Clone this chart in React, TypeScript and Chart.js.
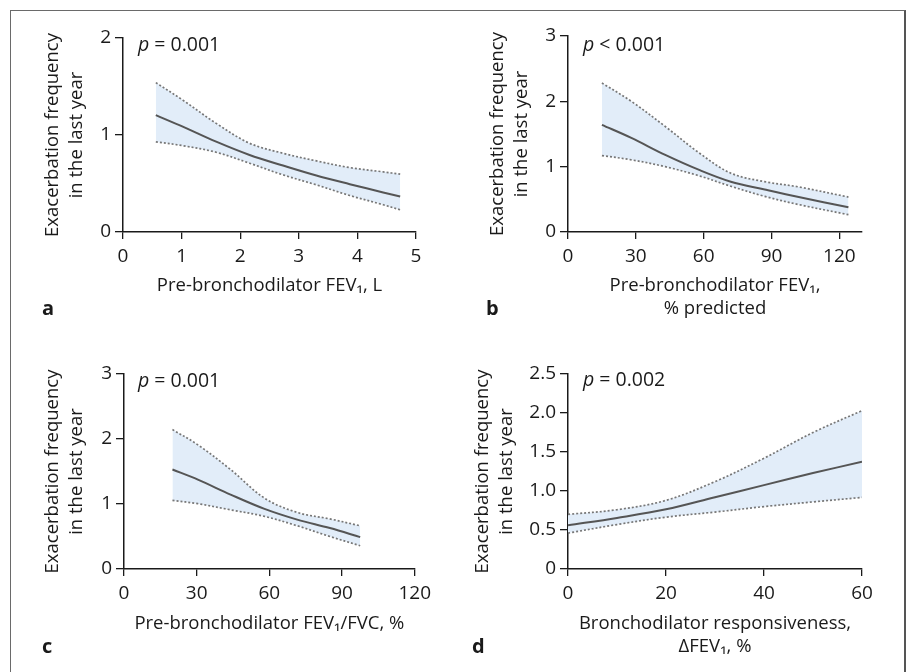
import React, { useEffect, useRef } from 'react';
import { Chart, registerables } from 'chart.js';
Chart.register(...registerables);

// Panel a: Pre-bronchodilator FEV1, L
const A_X = [0.56, 1.02, 1.59, 2.16, 2.73, 3.3, 3.87, 4.44, 4.73];
const A_FIT = [1.205, 1.086, 0.931, 0.794, 0.685, 0.582, 0.493, 0.408, 0.366];
const A_UP = [1.54, 1.36, 1.12, 0.915, 0.812, 0.733, 0.664, 0.62, 0.596];
const A_LO = [0.93, 0.89, 0.822, 0.709, 0.589, 0.486, 0.376, 0.281, 0.229];
const A_XTICKS = [0, 1, 2, 3, 4, 5];
const A_YTICKS = [0, 1, 2];
const A_YLABELS = ['0', '1', '2'];

// Panel b: Pre-bronchodilator FEV1, % predicted
const B_X = [15, 28, 43, 58, 72, 87, 102, 124];
const B_FIT = [1.64, 1.44, 1.18, 0.95, 0.77, 0.65, 0.535, 0.38];
const B_UP = [2.28, 2.0, 1.615, 1.21, 0.9, 0.77, 0.69, 0.535];
const B_LO = [1.17, 1.105, 1.0, 0.86, 0.7, 0.545, 0.42, 0.265];
const B_XTICKS = [0, 30, 60, 90, 120];
const B_YTICKS = [0, 1, 2, 3];
const B_YLABELS = ['0', '1', '2', '3'];

// Panel c: Pre-bronchodilator FEV1/FVC, %
const C_X = [20, 30.5, 44, 58, 71.5, 85, 97.5];
const C_FIT = [1.53, 1.375, 1.145, 0.925, 0.76, 0.63, 0.49];
const C_UP = [2.145, 1.91, 1.53, 1.09, 0.87, 0.77, 0.665];
const C_LO = [1.055, 1.005, 0.91, 0.81, 0.665, 0.5, 0.358];
const C_XTICKS = [0, 30, 60, 90, 120];
const C_YTICKS = [0, 1, 2, 3];
const C_YLABELS = ['0', '1', '2', '3'];

// Panel d: Bronchodilator responsiveness, ΔFEV1, %
const D_X = [0, 10, 20, 30, 40, 50, 60];
const D_FIT = [0.56, 0.655, 0.765, 0.92, 1.075, 1.23, 1.375];
const D_UP = [0.7, 0.76, 0.88, 1.12, 1.42, 1.75, 2.03];
const D_LO = [0.46, 0.57, 0.665, 0.73, 0.8, 0.86, 0.918];
const D_XTICKS = [0, 20, 40, 60];
const D_YTICKS = [0, 0.5, 1, 1.5, 2, 2.5];
const D_YLABELS = ['0', '0.5', '1.0', '1.5', '2.0', '2.5'];

const Y_TITLE = ['Exacerbation frequency', 'in the last year'];

const FONT = "'Open Sans', 'Noto Sans', sans-serif";
const TXT = '#1a1a1a';
const AXIS = '#1a1a1a';
const PAD_T = 20;
const PAD_R = 20;

type Panel = {
  x: number[]; fit: number[]; up: number[]; lo: number[];
  xMin: number; xMax: number; xTicks: number[];
  yMax: number; yTicks: number[]; yLabels: string[];
  xTitle: string[];
  left: number; top: number; yAxisW: number; xAxisH: number; plotW: number; plotH: number;
};

const PANELS: Panel[] = [
  { x: A_X, fit: A_FIT, up: A_UP, lo: A_LO, xMin: 0, xMax: 5, xTicks: A_XTICKS, yMax: 2, yTicks: A_YTICKS, yLabels: A_YLABELS,
    xTitle: ['Pre-bronchodilator FEV\u2081, L'], left: 41, top: 18, yAxisW: 82, xAxisH: 65, plotW: 293, plotH: 194 },
  { x: B_X, fit: B_FIT, up: B_UP, lo: B_LO, xMin: 0, xMax: 130, xTicks: B_XTICKS, yMax: 3, yTicks: B_YTICKS, yLabels: B_YLABELS,
    xTitle: ['Pre-bronchodilator FEV\u2081,', '% predicted'], left: 486, top: 16, yAxisW: 82, xAxisH: 88, plotW: 294, plotH: 196 },
  { x: C_X, fit: C_FIT, up: C_UP, lo: C_LO, xMin: 0, xMax: 120, xTicks: C_XTICKS, yMax: 3, yTicks: C_YTICKS, yLabels: C_YLABELS,
    xTitle: ['Pre-bronchodilator FEV\u2081/FVC, %'], left: 41, top: 354, yAxisW: 83, xAxisH: 66, plotW: 293, plotH: 195 },
  { x: D_X, fit: D_FIT, up: D_UP, lo: D_LO, xMin: 0, xMax: 60, xTicks: D_XTICKS, yMax: 2.5, yTicks: D_YTICKS, yLabels: D_YLABELS,
    xTitle: ['Bronchodilator responsiveness,', '\u0394FEV\u2081, %'], left: 471, top: 354, yAxisW: 97, xAxisH: 89, plotW: 294, plotH: 195 },
];

function PanelChart({ p }: { p: Panel }) {
  const ref = useRef<HTMLCanvasElement>(null);
  const w = p.yAxisW + p.plotW + PAD_R;
  const h = PAD_T + p.plotH + p.xAxisH;
  useEffect(() => {
    const pts = (ys: number[]) => p.x.map((x, i) => ({ x, y: ys[i] }));
    const band = {
      borderColor: '#777777', borderWidth: 1.7, borderDash: [2, 2], pointRadius: 0, tension: 0.35,
    };
    const chart = new Chart(ref.current!, {
      type: 'line',
      data: {
        datasets: [
          { data: pts(p.fit), borderColor: '#555555', borderWidth: 2, pointRadius: 0, fill: false, tension: 0.35 },
          { ...band, data: pts(p.lo), fill: false },
          { ...band, data: pts(p.up), fill: '-1', backgroundColor: '#e2edf9' },
        ],
      },
      options: {
        animation: false,
        responsive: false,
        maintainAspectRatio: false,
        layout: { padding: { top: PAD_T, right: PAD_R, left: 0, bottom: 0 } },
        plugins: {
          legend: { display: false },
          tooltip: { enabled: false },
          filler: { drawTime: 'beforeDatasetsDraw' },
        },
        scales: {
          x: {
            type: 'linear', min: p.xMin, max: p.xMax,
            afterBuildTicks: (s: any) => { s.ticks = p.xTicks.map((v) => ({ value: v })); },
            afterFit: (s: any) => { s.height = p.xAxisH; },
            grid: { display: true, drawOnChartArea: false, drawTicks: true, tickLength: 7, color: AXIS, lineWidth: 1.3 },
            border: { display: true, color: AXIS, width: 1.5 },
            ticks: { color: TXT, font: { family: FONT, size: 19 }, padding: 6, maxRotation: 0, autoSkip: false },
            title: { display: true, text: p.xTitle, color: TXT, font: { family: FONT, size: 18.5, lineHeight: 1.25 }, padding: 0 },
          },
          y: {
            type: 'linear', min: 0, max: p.yMax,
            afterBuildTicks: (s: any) => { s.ticks = p.yTicks.map((v) => ({ value: v })); },
            afterFit: (s: any) => { s.width = p.yAxisW; },
            grid: { display: true, drawOnChartArea: false, drawTicks: true, tickLength: 8, color: AXIS, lineWidth: 1.3 },
            border: { display: true, color: AXIS, width: 1.5 },
            ticks: {
              color: TXT, font: { family: FONT, size: 19 }, padding: 4, autoSkip: false,
              callback: (v: any) => { const i = p.yTicks.indexOf(Number(v)); return i >= 0 ? p.yLabels[i] : ''; },
            },
            title: { display: true, text: Y_TITLE, color: TXT, font: { family: FONT, size: 18.5, lineHeight: 1.3 }, padding: 0 },
          },
        },
      },
    } as any);
    return () => chart.destroy();
  }, []);
  return (
    <canvas
      ref={ref}
      width={w}
      height={h}
      style={{ position: 'absolute', left: p.left, top: p.top, width: w, height: h }}
    />
  );
}

const P_TEXTS = [
  { left: 138, top: 34, op: '=', val: '0.001' },
  { left: 583, top: 34, op: '<', val: '0.001' },
  { left: 138, top: 370, op: '=', val: '0.001' },
  { left: 583, top: 369, op: '=', val: '0.002' },
];
const LETTERS = [
  { left: 42, top: 298, t: 'a' },
  { left: 486, top: 298, t: 'b' },
  { left: 42, top: 636, t: 'c' },
  { left: 472, top: 636, t: 'd' },
];

export default function App() {
  return (
    <div style={{ position: 'absolute', left: 0, top: 0, width: 911, height: 672, overflow: 'hidden', background: '#fff', fontFamily: FONT }}>
      <div style={{ position: 'absolute', left: 10, top: 10, width: 893, height: 720, borderLeft: '1.5px solid #6a6a6a', borderTop: '1.5px solid #6a6a6a', borderRight: '2px solid #555' }} />
      {PANELS.map((p, i) => <PanelChart key={i} p={p} />)}
      {P_TEXTS.map((t, i) => (
        <div key={'p' + i} style={{ position: 'absolute', left: t.left, top: t.top, fontSize: 19.5, lineHeight: '20px', color: TXT, whiteSpace: 'pre' }}>
          <i>p</i>{' ' + t.op + ' ' + t.val}
        </div>
      ))}
      {LETTERS.map((l, i) => (
        <div key={'l' + i} style={{ position: 'absolute', left: l.left, top: l.top, fontSize: 20, fontWeight: 700, lineHeight: '20px', color: TXT }}>
          {l.t}
        </div>
      ))}
    </div>
  );
}
